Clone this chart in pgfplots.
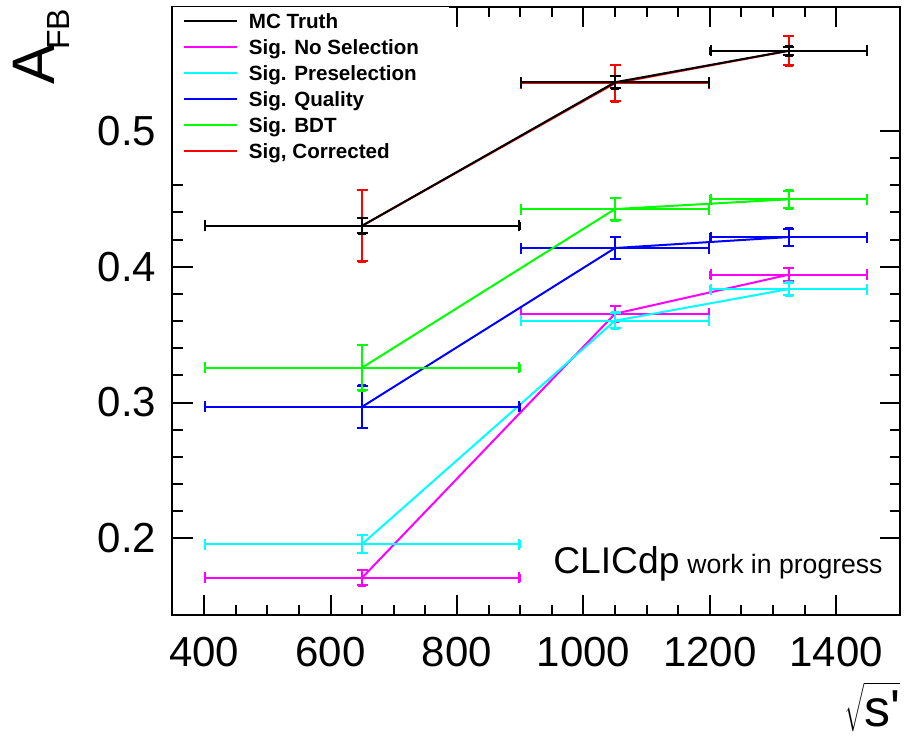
\documentclass[border=0pt]{standalone}
\usepackage{pgfplots}
\pgfplotsset{compat=1.18}
\usepackage{pgfplotstable}
\usetikzlibrary{arrows.meta}
\usepackage{fontspec}
\setmainfont{Liberation Sans}
\newfontfamily\rawsans{Liberation Sans}[Ligatures=TeXOff]

\definecolor{rmag}{rgb}{1,0,1}
\definecolor{rcyan}{rgb}{0,1,1}
\definecolor{rblue}{rgb}{0,0,1}
\definecolor{rgreen}{rgb}{0,1,0}
\definecolor{rred}{rgb}{1,0,0}

\pgfplotstableread{
x y ex ey
650 0.4302 250 0.0063
1050 0.5359 150 0.0053
1325 0.5591 125 0.0038
}\truth
\pgfplotstableread{
x y ex ey
650 0.1710 250 0.0061
1050 0.3654 150 0.0064
1325 0.3942 125 0.0057
}\nosel
\pgfplotstableread{
x y ex ey
650 0.1958 250 0.0071
1050 0.3603 150 0.0065
1325 0.3836 125 0.0054
}\presel
\pgfplotstableread{
x y ex ey
650 0.2969 250 0.0162
1050 0.4138 150 0.0087
1325 0.4219 125 0.0070
}\quality
\pgfplotstableread{
x y ex ey
650 0.3257 250 0.0174
1050 0.4425 150 0.0088
1325 0.4497 125 0.0072
}\bdt
\pgfplotstableread{
x y ex ey
650 0.4302 250 0.0270
1050 0.5352 150 0.0139
1325 0.5591 125 0.0113
}\corr

\pgfplotsset{
  rootplot/.style={
    line width=1pt, mark=none, forget plot,
    error bars/.cd, x dir=both, x explicit, y dir=both, y explicit,
    error bar style={line width=1pt, -{Bar[width=5.5pt, line width=1pt]}},
  }
}

\begin{document}
\begin{tikzpicture}
\begin{axis}[
  set layers=standard,
  at={(0pt,0pt)}, anchor=south west,
  scale only axis, width=363.5pt, height=304pt,
  xmin=350, xmax=1500, ymin=0.14351, ymax=0.59133,
  xtick={400,600,800,1000,1200,1400},
  xticklabels={400,600,800,1000,1200,1400},
  ytick={0.2,0.3,0.4,0.5},
  yticklabels={0.2,0.3,0.4,0.5},
  minor x tick num=3, minor y tick num=4,
  tick align=inside,
  major tick length=10pt, minor tick length=5pt,
  tick style={line width=1pt, black},
  axis line style={line width=1pt},
  /pgf/number format/assume math mode=true,
  tick label style={font=\fontsize{21}{21}\selectfont, inner sep=0pt},
  xticklabel style={anchor=north, yshift=-11pt},
  yticklabel style={anchor=east, xshift=-8pt},
  legend style={at={(0,1)}, anchor=north west, fill=white, draw=none,
    inner sep=0pt, row sep=0pt, column sep=0pt,
    font=\bfseries\fontsize{10.3}{12}\selectfont,
    nodes={inner sep=0pt, text height=10.5pt, text depth=2.5pt, anchor=base west}},
  legend image code/.code={
    \path[draw=none, fill=none] (0pt,-2.5pt) rectangle (38pt,10.5pt);
    \draw[#1] (5.5pt,3.7pt) -- (32pt,3.7pt);
  },
]
\addlegendimage{black, line width=1pt}
\addlegendentry{\makebox[100pt][l]{MC Truth}}
\addlegendimage{rmag, line width=1pt}
\addlegendentry{\makebox[100pt][l]{Sig. No Selection}}
\addlegendimage{rcyan, line width=1pt}
\addlegendentry{\makebox[100pt][l]{Sig. Preselection}}
\addlegendimage{rblue, line width=1pt}
\addlegendentry{\makebox[100pt][l]{Sig. Quality}}
\addlegendimage{rgreen, line width=1pt}
\addlegendentry{\makebox[100pt][l]{Sig. BDT}}
\addlegendimage{rred, line width=1pt}
\addlegendentry{\makebox[100pt][l]{Sig, Corrected}}

\addplot[rmag, rootplot] table[x=x, y=y, x error=ex, y error=ey] {\nosel};
\addplot[rcyan, rootplot] table[x=x, y=y, x error=ex, y error=ey] {\presel};
\addplot[rblue, rootplot] table[x=x, y=y, x error=ex, y error=ey] {\quality};
\addplot[rgreen, rootplot] table[x=x, y=y, x error=ex, y error=ey] {\bdt};
\addplot[rred, rootplot] table[x=x, y=y, x error=ex, y error=ey] {\corr};
\addplot[black, rootplot] table[x=x, y=y, x error=ex, y error=ey] {\truth};
\end{axis}
\node[rotate=90, anchor=base west, inner sep=0pt] at (-58.75pt,265pt)
  {{\fontsize{30}{30}\selectfont A}\kern-2.5pt\raisebox{-7.5pt}{\fontsize{16}{16}\selectfont FB}};
\node[anchor=base east, inner sep=0pt] at (364pt,-55.5pt)
  {$\sqrt{\mbox{\rawsans\fontsize{26}{26}\selectfont s'}}$};
\node[anchor=base east, inner sep=0pt] at (355.25pt,20.85pt)
  {{\fontsize{18.6}{18.6}\selectfont CLICdp}\hspace{4pt}{\fontsize{13.3}{13.3}\selectfont work in progress}};
\pgfresetboundingbox
\useasboundingbox (-86.25pt,-60pt) rectangle (369.25pt,307.5pt);
\end{tikzpicture}
\end{document}
